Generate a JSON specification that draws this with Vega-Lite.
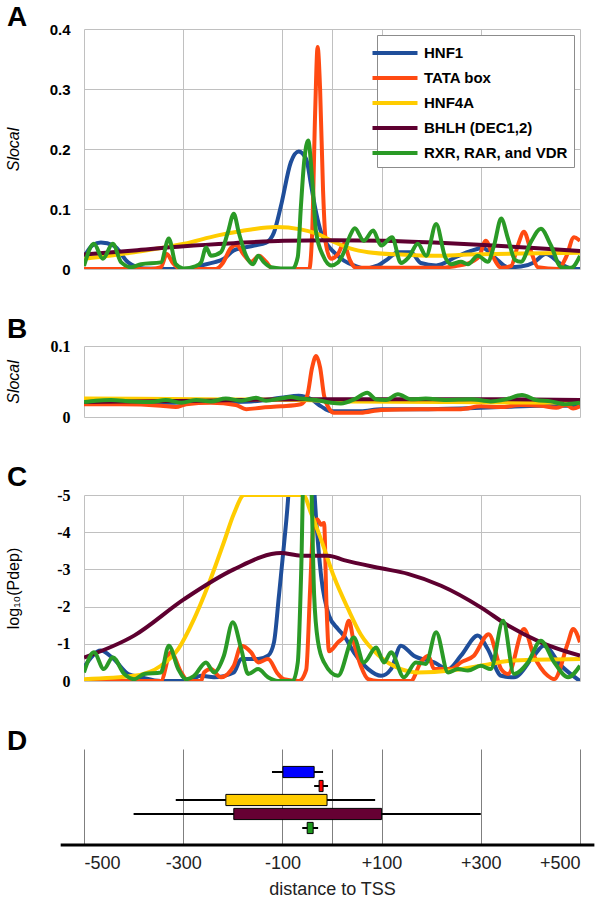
{
  "$schema": "https://vega.github.io/schema/vega-lite/v6.json",
  "background": "white",
  "padding": {"left": 5, "top": 4, "right": 5, "bottom": 5},
  "spacing": 39,
  "config": {
    "view": {"stroke": null},
    "font": "Liberation Sans",
    "title": {"fontSize": 28, "fontWeight": "bold", "anchor": "start", "frame": "group", "color": "black", "font": "Liberation Sans", "dx": -77}
  },
  "resolve": {"scale": {"color": "independent", "fill": "independent"}, "legend": {"color": "independent"}},
  "datasets": {
    "a": [
      {"s":"HNF1","x":-500,"y":0.02},{"s":"HNF1","x":-482,"y":0.04},{"s":"HNF1","x":-466,"y":0.044},{"s":"HNF1","x":-440,"y":0.039},{"s":"HNF1","x":-411,"y":0.011},{"s":"HNF1","x":-379,"y":0.001},{"s":"HNF1","x":-290,"y":0.0},{"s":"HNF1","x":-264,"y":0.006},{"s":"HNF1","x":-238,"y":0.011},{"s":"HNF1","x":-218,"y":0.017},{"s":"HNF1","x":-198,"y":0.031},{"s":"HNF1","x":-157,"y":0.039},{"s":"HNF1","x":-133,"y":0.044},{"s":"HNF1","x":-117,"y":0.061},{"s":"HNF1","x":-103,"y":0.105},{"s":"HNF1","x":-83,"y":0.178},{"s":"HNF1","x":-67,"y":0.196},{"s":"HNF1","x":-52,"y":0.183},{"s":"HNF1","x":-42,"y":0.139},{"s":"HNF1","x":-32,"y":0.094},{"s":"HNF1","x":-22,"y":0.061},{"s":"HNF1","x":-8,"y":0.039},{"s":"HNF1","x":4,"y":0.028},{"s":"HNF1","x":24,"y":0.014},{"s":"HNF1","x":44,"y":0.006},{"s":"HNF1","x":64,"y":0.001},{"s":"HNF1","x":93,"y":0.006},{"s":"HNF1","x":113,"y":0.017},{"s":"HNF1","x":133,"y":0.028},{"s":"HNF1","x":159,"y":0.028},{"s":"HNF1","x":179,"y":0.01},{"s":"HNF1","x":210,"y":0.006},{"s":"HNF1","x":250,"y":0.02},{"s":"HNF1","x":280,"y":0.03},{"s":"HNF1","x":304,"y":0.035},{"s":"HNF1","x":327,"y":0.02},{"s":"HNF1","x":355,"y":0.003},{"s":"HNF1","x":381,"y":0.004},{"s":"HNF1","x":407,"y":0.011},{"s":"HNF1","x":431,"y":0.025},{"s":"HNF1","x":462,"y":0.008},{"s":"HNF1","x":488,"y":0.0},{"s":"HNF1","x":500,"y":0.0},

      {"s":"TATA box","x":-500,"y":0},{"s":"TATA box","x":-365,"y":0},{"s":"TATA box","x":-345,"y":0.003},{"s":"TATA box","x":-333,"y":0.025},{"s":"TATA box","x":-321,"y":0.01},{"s":"TATA box","x":-304,"y":0},{"s":"TATA box","x":-234,"y":0},{"s":"TATA box","x":-220,"y":0.01},{"s":"TATA box","x":-204,"y":0.035},{"s":"TATA box","x":-192,"y":0.04},{"s":"TATA box","x":-179,"y":0.025},{"s":"TATA box","x":-163,"y":0.012},{"s":"TATA box","x":-147,"y":0.022},{"s":"TATA box","x":-133,"y":0.012},{"s":"TATA box","x":-119,"y":0},{"s":"TATA box","x":-46,"y":0},{"s":"TATA box","x":-40,"y":0.06},{"s":"TATA box","x":-34,"y":0.26},{"s":"TATA box","x":-29,"y":0.37},{"s":"TATA box","x":-24,"y":0.3},{"s":"TATA box","x":-18,"y":0.13},{"s":"TATA box","x":-12,"y":0.04},{"s":"TATA box","x":-2,"y":0.017},{"s":"TATA box","x":12,"y":0.025},{"s":"TATA box","x":24,"y":0.042},{"s":"TATA box","x":36,"y":0.015},{"s":"TATA box","x":48,"y":0.002},{"s":"TATA box","x":99,"y":0.002},{"s":"TATA box","x":220,"y":0.002},{"s":"TATA box","x":250,"y":0.005},{"s":"TATA box","x":270,"y":0.008},{"s":"TATA box","x":296,"y":0.02},{"s":"TATA box","x":310,"y":0.047},{"s":"TATA box","x":325,"y":0.02},{"s":"TATA box","x":341,"y":0.002},{"s":"TATA box","x":361,"y":0.005},{"s":"TATA box","x":375,"y":0.04},{"s":"TATA box","x":387,"y":0.062},{"s":"TATA box","x":401,"y":0.03},{"s":"TATA box","x":415,"y":0.003},{"s":"TATA box","x":456,"y":0},{"s":"TATA box","x":472,"y":0.02},{"s":"TATA box","x":488,"y":0.053},{"s":"TATA box","x":500,"y":0.047},

      {"s":"HNF4A","x":-500,"y":0.017},{"s":"HNF4A","x":-399,"y":0.028},{"s":"HNF4A","x":-298,"y":0.042},{"s":"HNF4A","x":-230,"y":0.056},{"s":"HNF4A","x":-163,"y":0.066},{"s":"HNF4A","x":-113,"y":0.07},{"s":"HNF4A","x":-63,"y":0.066},{"s":"HNF4A","x":-28,"y":0.058},{"s":"HNF4A","x":4,"y":0.045},{"s":"HNF4A","x":38,"y":0.034},{"s":"HNF4A","x":73,"y":0.028},{"s":"HNF4A","x":139,"y":0.024},{"s":"HNF4A","x":206,"y":0.022},{"s":"HNF4A","x":274,"y":0.024},{"s":"HNF4A","x":381,"y":0.026},{"s":"HNF4A","x":500,"y":0.027},

      {"s":"BHLH (DEC1,2)","x":-500,"y":0.024},{"s":"BHLH (DEC1,2)","x":-399,"y":0.031},{"s":"BHLH (DEC1,2)","x":-298,"y":0.038},{"s":"BHLH (DEC1,2)","x":-198,"y":0.043},{"s":"BHLH (DEC1,2)","x":-97,"y":0.047},{"s":"BHLH (DEC1,2)","x":4,"y":0.048},{"s":"BHLH (DEC1,2)","x":105,"y":0.047},{"s":"BHLH (DEC1,2)","x":206,"y":0.044},{"s":"BHLH (DEC1,2)","x":306,"y":0.04},{"s":"BHLH (DEC1,2)","x":407,"y":0.035},{"s":"BHLH (DEC1,2)","x":500,"y":0.03},

      {"s":"RXR, RAR, and VDR","x":-500,"y":0.005},{"s":"RXR, RAR, and VDR","x":-480,"y":0.042},{"s":"RXR, RAR, and VDR","x":-462,"y":0.017},{"s":"RXR, RAR, and VDR","x":-442,"y":0.042},{"s":"RXR, RAR, and VDR","x":-425,"y":0.011},{"s":"RXR, RAR, and VDR","x":-405,"y":0.003},{"s":"RXR, RAR, and VDR","x":-385,"y":0.008},{"s":"RXR, RAR, and VDR","x":-345,"y":0.011},{"s":"RXR, RAR, and VDR","x":-329,"y":0.051},{"s":"RXR, RAR, and VDR","x":-315,"y":0.008},{"s":"RXR, RAR, and VDR","x":-300,"y":0.001},{"s":"RXR, RAR, and VDR","x":-274,"y":0.005},{"s":"RXR, RAR, and VDR","x":-264,"y":0.011},{"s":"RXR, RAR, and VDR","x":-254,"y":0.036},{"s":"RXR, RAR, and VDR","x":-244,"y":0.022},{"s":"RXR, RAR, and VDR","x":-224,"y":0.028},{"s":"RXR, RAR, and VDR","x":-210,"y":0.061},{"s":"RXR, RAR, and VDR","x":-198,"y":0.092},{"s":"RXR, RAR, and VDR","x":-188,"y":0.061},{"s":"RXR, RAR, and VDR","x":-173,"y":0.022},{"s":"RXR, RAR, and VDR","x":-159,"y":0.008},{"s":"RXR, RAR, and VDR","x":-149,"y":0.022},{"s":"RXR, RAR, and VDR","x":-137,"y":0.011},{"s":"RXR, RAR, and VDR","x":-123,"y":0.003},{"s":"RXR, RAR, and VDR","x":-103,"y":0.001},{"s":"RXR, RAR, and VDR","x":-79,"y":0.001},{"s":"RXR, RAR, and VDR","x":-69,"y":0.02},{"s":"RXR, RAR, and VDR","x":-63,"y":0.1},{"s":"RXR, RAR, and VDR","x":-56,"y":0.18},{"s":"RXR, RAR, and VDR","x":-48,"y":0.214},{"s":"RXR, RAR, and VDR","x":-40,"y":0.15},{"s":"RXR, RAR, and VDR","x":-32,"y":0.061},{"s":"RXR, RAR, and VDR","x":-18,"y":0.022},{"s":"RXR, RAR, and VDR","x":-2,"y":0.006},{"s":"RXR, RAR, and VDR","x":12,"y":0.011},{"s":"RXR, RAR, and VDR","x":24,"y":0.028},{"s":"RXR, RAR, and VDR","x":36,"y":0.055},{"s":"RXR, RAR, and VDR","x":46,"y":0.068},{"s":"RXR, RAR, and VDR","x":64,"y":0.047},{"s":"RXR, RAR, and VDR","x":83,"y":0.064},{"s":"RXR, RAR, and VDR","x":99,"y":0.039},{"s":"RXR, RAR, and VDR","x":121,"y":0.053},{"s":"RXR, RAR, and VDR","x":139,"y":0.01},{"s":"RXR, RAR, and VDR","x":155,"y":0.02},{"s":"RXR, RAR, and VDR","x":173,"y":0.042},{"s":"RXR, RAR, and VDR","x":190,"y":0.022},{"s":"RXR, RAR, and VDR","x":210,"y":0.075},{"s":"RXR, RAR, and VDR","x":228,"y":0.02},{"s":"RXR, RAR, and VDR","x":240,"y":0.008},{"s":"RXR, RAR, and VDR","x":260,"y":0.012},{"s":"RXR, RAR, and VDR","x":274,"y":0.008},{"s":"RXR, RAR, and VDR","x":294,"y":0.022},{"s":"RXR, RAR, and VDR","x":314,"y":0.012},{"s":"RXR, RAR, and VDR","x":327,"y":0.04},{"s":"RXR, RAR, and VDR","x":341,"y":0.084},{"s":"RXR, RAR, and VDR","x":355,"y":0.05},{"s":"RXR, RAR, and VDR","x":369,"y":0.015},{"s":"RXR, RAR, and VDR","x":381,"y":0.012},{"s":"RXR, RAR, and VDR","x":401,"y":0.045},{"s":"RXR, RAR, and VDR","x":421,"y":0.067},{"s":"RXR, RAR, and VDR","x":441,"y":0.04},{"s":"RXR, RAR, and VDR","x":462,"y":0.003},{"s":"RXR, RAR, and VDR","x":482,"y":0.002},{"s":"RXR, RAR, and VDR","x":500,"y":0.022}
    ],
    "b": [
      {"s":"HNF1","x":-500,"y":0.02},{"s":"HNF1","x":-365,"y":0.02},{"s":"HNF1","x":-264,"y":0.021},{"s":"HNF1","x":-163,"y":0.022},{"s":"HNF1","x":-103,"y":0.027},{"s":"HNF1","x":-67,"y":0.03},{"s":"HNF1","x":-42,"y":0.025},{"s":"HNF1","x":-22,"y":0.015},{"s":"HNF1","x":-2,"y":0.008},{"s":"HNF1","x":58,"y":0.008},{"s":"HNF1","x":99,"y":0.011},{"s":"HNF1","x":179,"y":0.011},{"s":"HNF1","x":260,"y":0.012},{"s":"HNF1","x":341,"y":0.014},{"s":"HNF1","x":421,"y":0.016},{"s":"HNF1","x":500,"y":0.016},

      {"s":"TATA box","x":-500,"y":0.018},{"s":"TATA box","x":-425,"y":0.018},{"s":"TATA box","x":-345,"y":0.016},{"s":"TATA box","x":-315,"y":0.014},{"s":"TATA box","x":-294,"y":0.018},{"s":"TATA box","x":-244,"y":0.02},{"s":"TATA box","x":-194,"y":0.017},{"s":"TATA box","x":-173,"y":0.011},{"s":"TATA box","x":-143,"y":0.013},{"s":"TATA box","x":-103,"y":0.015},{"s":"TATA box","x":-63,"y":0.018},{"s":"TATA box","x":-50,"y":0.03},{"s":"TATA box","x":-40,"y":0.07},{"s":"TATA box","x":-32,"y":0.086},{"s":"TATA box","x":-24,"y":0.07},{"s":"TATA box","x":-16,"y":0.03},{"s":"TATA box","x":-6,"y":0.012},{"s":"TATA box","x":4,"y":0.006},{"s":"TATA box","x":58,"y":0.006},{"s":"TATA box","x":99,"y":0.01},{"s":"TATA box","x":179,"y":0.011},{"s":"TATA box","x":260,"y":0.011},{"s":"TATA box","x":300,"y":0.015},{"s":"TATA box","x":341,"y":0.014},{"s":"TATA box","x":381,"y":0.017},{"s":"TATA box","x":421,"y":0.016},{"s":"TATA box","x":452,"y":0.013},{"s":"TATA box","x":472,"y":0.017},{"s":"TATA box","x":486,"y":0.012},{"s":"TATA box","x":500,"y":0.015},

      {"s":"HNF4A","x":-500,"y":0.026},{"s":"HNF4A","x":-264,"y":0.025},{"s":"HNF4A","x":-63,"y":0.024},{"s":"HNF4A","x":38,"y":0.022},{"s":"HNF4A","x":240,"y":0.021},{"s":"HNF4A","x":500,"y":0.02},

      {"s":"BHLH (DEC1,2)","x":-500,"y":0.021},{"s":"BHLH (DEC1,2)","x":-264,"y":0.023},{"s":"BHLH (DEC1,2)","x":-63,"y":0.025},{"s":"BHLH (DEC1,2)","x":139,"y":0.025},{"s":"BHLH (DEC1,2)","x":341,"y":0.025},{"s":"BHLH (DEC1,2)","x":500,"y":0.024},

      {"s":"RXR, RAR, and VDR","x":-500,"y":0.021},{"s":"RXR, RAR, and VDR","x":-476,"y":0.023},{"s":"RXR, RAR, and VDR","x":-446,"y":0.024},{"s":"RXR, RAR, and VDR","x":-405,"y":0.022},{"s":"RXR, RAR, and VDR","x":-365,"y":0.021},{"s":"RXR, RAR, and VDR","x":-335,"y":0.024},{"s":"RXR, RAR, and VDR","x":-304,"y":0.02},{"s":"RXR, RAR, and VDR","x":-274,"y":0.024},{"s":"RXR, RAR, and VDR","x":-244,"y":0.022},{"s":"RXR, RAR, and VDR","x":-214,"y":0.026},{"s":"RXR, RAR, and VDR","x":-183,"y":0.023},{"s":"RXR, RAR, and VDR","x":-153,"y":0.027},{"s":"RXR, RAR, and VDR","x":-133,"y":0.023},{"s":"RXR, RAR, and VDR","x":-103,"y":0.026},{"s":"RXR, RAR, and VDR","x":-83,"y":0.028},{"s":"RXR, RAR, and VDR","x":-63,"y":0.026},{"s":"RXR, RAR, and VDR","x":-32,"y":0.024},{"s":"RXR, RAR, and VDR","x":-2,"y":0.02},{"s":"RXR, RAR, and VDR","x":18,"y":0.019},{"s":"RXR, RAR, and VDR","x":48,"y":0.026},{"s":"RXR, RAR, and VDR","x":71,"y":0.034},{"s":"RXR, RAR, and VDR","x":89,"y":0.025},{"s":"RXR, RAR, and VDR","x":109,"y":0.024},{"s":"RXR, RAR, and VDR","x":133,"y":0.032},{"s":"RXR, RAR, and VDR","x":159,"y":0.025},{"s":"RXR, RAR, and VDR","x":189,"y":0.026},{"s":"RXR, RAR, and VDR","x":230,"y":0.024},{"s":"RXR, RAR, and VDR","x":280,"y":0.025},{"s":"RXR, RAR, and VDR","x":320,"y":0.022},{"s":"RXR, RAR, and VDR","x":351,"y":0.025},{"s":"RXR, RAR, and VDR","x":383,"y":0.031},{"s":"RXR, RAR, and VDR","x":411,"y":0.024},{"s":"RXR, RAR, and VDR","x":441,"y":0.022},{"s":"RXR, RAR, and VDR","x":472,"y":0.018},{"s":"RXR, RAR, and VDR","x":500,"y":0.02}
    ],
    "c": [
      {"s":"HNF1","x":-500,"y":-0.37},{"s":"HNF1","x":-466,"y":-0.82},{"s":"HNF1","x":-440,"y":-0.59},{"s":"HNF1","x":-411,"y":-0.19},{"s":"HNF1","x":-385,"y":-0.1},{"s":"HNF1","x":-345,"y":0},{"s":"HNF1","x":-290,"y":0},{"s":"HNF1","x":-264,"y":-0.14},{"s":"HNF1","x":-238,"y":-0.1},{"s":"HNF1","x":-198,"y":-0.23},{"s":"HNF1","x":-183,"y":-0.59},{"s":"HNF1","x":-149,"y":-0.59},{"s":"HNF1","x":-129,"y":-0.68},{"s":"HNF1","x":-117,"y":-1.04},{"s":"HNF1","x":-107,"y":-2.29},{"s":"HNF1","x":-97,"y":-3.64},{"s":"HNF1","x":-87,"y":-5.2},{"s":"HNF1","x":-77,"y":-8},{"s":"HNF1","x":-58,"y":-8},{"s":"HNF1","x":-40,"y":-6},{"s":"HNF1","x":-32,"y":-4.35},{"s":"HNF1","x":-22,"y":-2.83},{"s":"HNF1","x":-6,"y":-1.76},{"s":"HNF1","x":12,"y":-1.4},{"s":"HNF1","x":24,"y":-1.22},{"s":"HNF1","x":44,"y":-0.77},{"s":"HNF1","x":73,"y":-0.32},{"s":"HNF1","x":99,"y":-0.14},{"s":"HNF1","x":119,"y":-0.32},{"s":"HNF1","x":139,"y":-0.95},{"s":"HNF1","x":165,"y":-0.68},{"s":"HNF1","x":206,"y":-0.5},{"s":"HNF1","x":234,"y":-0.32},{"s":"HNF1","x":260,"y":-0.68},{"s":"HNF1","x":294,"y":-1.22},{"s":"HNF1","x":314,"y":-0.86},{"s":"HNF1","x":341,"y":-0.14},{"s":"HNF1","x":367,"y":-0.1},{"s":"HNF1","x":407,"y":-0.68},{"s":"HNF1","x":427,"y":-0.95},{"s":"HNF1","x":462,"y":-0.41},{"s":"HNF1","x":500,"y":0},

      {"s":"TATA box","x":-500,"y":0},{"s":"TATA box","x":-345,"y":0},{"s":"TATA box","x":-325,"y":-0.77},{"s":"TATA box","x":-304,"y":-0.23},{"s":"TATA box","x":-290,"y":0},{"s":"TATA box","x":-264,"y":0},{"s":"TATA box","x":-258,"y":-0.23},{"s":"TATA box","x":-244,"y":-0.32},{"s":"TATA box","x":-224,"y":-0.1},{"s":"TATA box","x":-198,"y":-0.41},{"s":"TATA box","x":-183,"y":-0.95},{"s":"TATA box","x":-163,"y":-0.77},{"s":"TATA box","x":-149,"y":-0.5},{"s":"TATA box","x":-129,"y":-0.59},{"s":"TATA box","x":-109,"y":-0.19},{"s":"TATA box","x":-97,"y":-0.05},{"s":"TATA box","x":-67,"y":0},{"s":"TATA box","x":-52,"y":-0.3},{"s":"TATA box","x":-44,"y":-2.5},{"s":"TATA box","x":-38,"y":-4.1},{"s":"TATA box","x":-30,"y":-4.35},{"s":"TATA box","x":-22,"y":-4.2},{"s":"TATA box","x":-16,"y":-4.25},{"s":"TATA box","x":-11,"y":-2.0},{"s":"TATA box","x":-6,"y":-0.8},{"s":"TATA box","x":12,"y":-1.04},{"s":"TATA box","x":24,"y":-1.2},{"s":"TATA box","x":34,"y":-1.62},{"s":"TATA box","x":44,"y":-1.04},{"s":"TATA box","x":58,"y":-0.41},{"s":"TATA box","x":73,"y":-0.05},{"s":"TATA box","x":93,"y":0},{"s":"TATA box","x":159,"y":0},{"s":"TATA box","x":179,"y":-0.5},{"s":"TATA box","x":194,"y":-0.68},{"s":"TATA box","x":206,"y":-0.32},{"s":"TATA box","x":240,"y":-0.32},{"s":"TATA box","x":260,"y":-0.5},{"s":"TATA box","x":286,"y":-0.68},{"s":"TATA box","x":316,"y":-1.26},{"s":"TATA box","x":341,"y":-0.32},{"s":"TATA box","x":355,"y":-0.19},{"s":"TATA box","x":387,"y":-1.4},{"s":"TATA box","x":407,"y":-0.68},{"s":"TATA box","x":435,"y":-0.14},{"s":"TATA box","x":448,"y":-0.05},{"s":"TATA box","x":476,"y":-1.04},{"s":"TATA box","x":486,"y":-1.4},{"s":"TATA box","x":500,"y":-1.04},

      {"s":"HNF4A","x":-500,"y":-0.05},{"s":"HNF4A","x":-399,"y":-0.14},{"s":"HNF4A","x":-345,"y":-0.41},{"s":"HNF4A","x":-310,"y":-0.86},{"s":"HNF4A","x":-278,"y":-1.67},{"s":"HNF4A","x":-250,"y":-2.56},{"s":"HNF4A","x":-218,"y":-3.73},{"s":"HNF4A","x":-198,"y":-4.49},{"s":"HNF4A","x":-177,"y":-5.0},{"s":"HNF4A","x":-58,"y":-5.0},{"s":"HNF4A","x":-42,"y":-4.5},{"s":"HNF4A","x":-22,"y":-3.8},{"s":"HNF4A","x":4,"y":-2.8},{"s":"HNF4A","x":32,"y":-1.95},{"s":"HNF4A","x":58,"y":-1.25},{"s":"HNF4A","x":93,"y":-0.7},{"s":"HNF4A","x":139,"y":-0.32},{"s":"HNF4A","x":173,"y":-0.23},{"s":"HNF4A","x":240,"y":-0.28},{"s":"HNF4A","x":300,"y":-0.41},{"s":"HNF4A","x":367,"y":-0.55},{"s":"HNF4A","x":500,"y":-0.59},

      {"s":"BHLH (DEC1,2)","x":-500,"y":-0.63},{"s":"BHLH (DEC1,2)","x":-399,"y":-1.22},{"s":"BHLH (DEC1,2)","x":-298,"y":-2.2},{"s":"BHLH (DEC1,2)","x":-198,"y":-3.0},{"s":"BHLH (DEC1,2)","x":-103,"y":-3.44},{"s":"BHLH (DEC1,2)","x":-63,"y":-3.37},{"s":"BHLH (DEC1,2)","x":-8,"y":-3.37},{"s":"BHLH (DEC1,2)","x":24,"y":-3.25},{"s":"BHLH (DEC1,2)","x":99,"y":-3.03},{"s":"BHLH (DEC1,2)","x":153,"y":-2.88},{"s":"BHLH (DEC1,2)","x":220,"y":-2.56},{"s":"BHLH (DEC1,2)","x":300,"y":-1.98},{"s":"BHLH (DEC1,2)","x":355,"y":-1.49},{"s":"BHLH (DEC1,2)","x":421,"y":-1.04},{"s":"BHLH (DEC1,2)","x":500,"y":-0.68},

      {"s":"RXR, RAR, and VDR","x":-500,"y":-0.23},{"s":"RXR, RAR, and VDR","x":-480,"y":-0.77},{"s":"RXR, RAR, and VDR","x":-460,"y":-0.32},{"s":"RXR, RAR, and VDR","x":-442,"y":-0.64},{"s":"RXR, RAR, and VDR","x":-419,"y":-0.19},{"s":"RXR, RAR, and VDR","x":-399,"y":-0.05},{"s":"RXR, RAR, and VDR","x":-379,"y":-0.19},{"s":"RXR, RAR, and VDR","x":-345,"y":-0.23},{"s":"RXR, RAR, and VDR","x":-329,"y":-0.95},{"s":"RXR, RAR, and VDR","x":-310,"y":-0.32},{"s":"RXR, RAR, and VDR","x":-294,"y":-0.05},{"s":"RXR, RAR, and VDR","x":-278,"y":-0.14},{"s":"RXR, RAR, and VDR","x":-254,"y":-0.5},{"s":"RXR, RAR, and VDR","x":-238,"y":-0.23},{"s":"RXR, RAR, and VDR","x":-218,"y":-0.68},{"s":"RXR, RAR, and VDR","x":-200,"y":-1.58},{"s":"RXR, RAR, and VDR","x":-183,"y":-0.86},{"s":"RXR, RAR, and VDR","x":-169,"y":-0.19},{"s":"RXR, RAR, and VDR","x":-149,"y":-0.32},{"s":"RXR, RAR, and VDR","x":-129,"y":-0.1},{"s":"RXR, RAR, and VDR","x":-109,"y":0},{"s":"RXR, RAR, and VDR","x":-79,"y":0},{"s":"RXR, RAR, and VDR","x":-69,"y":-0.5},{"s":"RXR, RAR, and VDR","x":-62,"y":-3},{"s":"RXR, RAR, and VDR","x":-56,"y":-6.5},{"s":"RXR, RAR, and VDR","x":-48,"y":-7},{"s":"RXR, RAR, and VDR","x":-42,"y":-5.5},{"s":"RXR, RAR, and VDR","x":-36,"y":-2.3},{"s":"RXR, RAR, and VDR","x":-28,"y":-1.04},{"s":"RXR, RAR, and VDR","x":-16,"y":-0.5},{"s":"RXR, RAR, and VDR","x":12,"y":-0.14},{"s":"RXR, RAR, and VDR","x":44,"y":-1.17},{"s":"RXR, RAR, and VDR","x":64,"y":-0.5},{"s":"RXR, RAR, and VDR","x":89,"y":-0.9},{"s":"RXR, RAR, and VDR","x":105,"y":-0.5},{"s":"RXR, RAR, and VDR","x":119,"y":-0.77},{"s":"RXR, RAR, and VDR","x":145,"y":-0.1},{"s":"RXR, RAR, and VDR","x":169,"y":-0.5},{"s":"RXR, RAR, and VDR","x":189,"y":-0.46},{"s":"RXR, RAR, and VDR","x":210,"y":-1.31},{"s":"RXR, RAR, and VDR","x":234,"y":-0.23},{"s":"RXR, RAR, and VDR","x":254,"y":-0.32},{"s":"RXR, RAR, and VDR","x":274,"y":-0.28},{"s":"RXR, RAR, and VDR","x":300,"y":-0.41},{"s":"RXR, RAR, and VDR","x":320,"y":-0.32},{"s":"RXR, RAR, and VDR","x":345,"y":-1.62},{"s":"RXR, RAR, and VDR","x":367,"y":-0.19},{"s":"RXR, RAR, and VDR","x":395,"y":-0.5},{"s":"RXR, RAR, and VDR","x":421,"y":-1.08},{"s":"RXR, RAR, and VDR","x":448,"y":-0.5},{"s":"RXR, RAR, and VDR","x":476,"y":-0.1},{"s":"RXR, RAR, and VDR","x":500,"y":-0.41}
    ],
    "d": [
      {"s":"HNF1","lo":-121,"q1":-99,"q3":-36,"hi":-18},
      {"s":"TATA box","lo":-36,"q1":-26,"q3":-18,"hi":-8},
      {"s":"HNF4A","lo":-315,"q1":-214,"q3":-10,"hi":87},
      {"s":"BHLH (DEC1,2)","lo":-400,"q1":-198,"q3":100,"hi":300},
      {"s":"RXR, RAR, and VDR","lo":-60,"q1":-50,"q3":-38,"hi":-28}
    ],
    "dline": [{"x0": -547, "x1": 529}]
  },
  "vconcat": [
    {
      "title": {"text": "A", "offset": -10},
      "width": 496, "height": 240,
      "data": {"name": "a"},
      "mark": {"type": "line", "strokeWidth": 4, "interpolate": "monotone", "clip": true},
      "encoding": {
        "x": {"field": "x", "type": "quantitative", "scale": {"domain": [-500, 500], "nice": false, "zero": false},
              "axis": {"values": [-500,-300,-100,0,100,300,500], "labels": false, "ticks": false, "domain": false, "title": null, "gridColor": "#C0C0C0", "minExtent": 0, "maxExtent": 0}},
        "y": {"field": "y", "type": "quantitative", "scale": {"domain": [0, 0.4], "nice": false},
              "axis": {"values": [0,0.1,0.2,0.3,0.4], "labelExpr": "datum.value == 0 ? '0' : format(datum.value, '.1f')", "labelFont": "Liberation Sans", "labelFontWeight": "bold", "labelFontSize": 15, "labelColor": "black", "labelPadding": 14, "ticks": false, "domain": false, "gridColor": "#C0C0C0", "title": "Slocal", "titleFont": "Liberation Sans", "titleFontStyle": "italic", "titleFontSize": 16, "titleFontWeight": "normal", "titleColor": "black", "titlePadding": 8, "minExtent": 55, "maxExtent": 55}},
        "color": {"field": "s", "type": "nominal",
                  "scale": {"domain": ["HNF1","TATA box","HNF4A","BHLH (DEC1,2)","RXR, RAR, and VDR"], "range": ["#1F4E9A","#FF4A12","#FFCC00","#5E0030","#2A9A26"]},
                  "legend": {"title": null, "orient": "top-right", "offset": 6, "fillColor": "white", "strokeColor": "#8C8C8C", "padding": 6, "labelFontSize": 15, "labelFontWeight": "bold", "labelColor": "black", "labelFont": "Liberation Sans", "symbolType": "M-2.25,0H2.25", "symbolStrokeWidth": 4, "symbolSize": 400, "rowPadding": 5, "labelOffset": 17, "labelLimit": 300}}
      }
    },
    {
      "title": {"text": "B", "offset": -6},
      "width": 496, "height": 71,
      "data": {"name": "b"},
      "mark": {"type": "line", "strokeWidth": 4, "interpolate": "monotone", "clip": true},
      "encoding": {
        "x": {"field": "x", "type": "quantitative", "scale": {"domain": [-500, 500], "nice": false, "zero": false},
              "axis": {"values": [-500,-300,-100,0,100,300,500], "labels": false, "ticks": false, "domain": false, "title": null, "gridColor": "#C0C0C0", "minExtent": 0, "maxExtent": 0}},
        "y": {"field": "y", "type": "quantitative", "scale": {"domain": [0, 0.1], "nice": false},
              "axis": {"values": [0,0.1], "labelExpr": "datum.value == 0 ? '0' : format(datum.value, '.1f')", "labelFont": "Liberation Serif", "labelFontWeight": "bold", "labelFontSize": 16, "labelColor": "black", "labelPadding": 14, "ticks": false, "domain": false, "gridColor": "#C0C0C0", "title": "Slocal", "titleFont": "Liberation Sans", "titleFontStyle": "italic", "titleFontSize": 16, "titleFontWeight": "normal", "titleColor": "black", "titlePadding": 8, "minExtent": 55, "maxExtent": 55}},
        "color": {"field": "s", "type": "nominal",
                  "scale": {"domain": ["HNF1","TATA box","HNF4A","BHLH (DEC1,2)","RXR, RAR, and VDR"], "range": ["#1F4E9A","#FF4A12","#FFCC00","#5E0030","#2A9A26"]},
                  "legend": null}
      }
    },
    {
      "title": {"text": "C", "offset": -5},
      "width": 496, "height": 186,
      "data": {"name": "c"},
      "mark": {"type": "line", "strokeWidth": 4, "interpolate": "monotone", "clip": true},
      "encoding": {
        "x": {"field": "x", "type": "quantitative", "scale": {"domain": [-500, 500], "nice": false, "zero": false},
              "axis": {"values": [-500,-300,-100,0,100,300,500], "labels": false, "ticks": false, "domain": false, "title": null, "gridColor": "#C0C0C0", "minExtent": 0, "maxExtent": 0}},
        "y": {"field": "y", "type": "quantitative", "scale": {"domain": [-5, 0], "nice": false, "reverse": true},
              "axis": {"values": [0,-1,-2,-3,-4,-5], "labelExpr": "datum.value == 0 ? '0' : '-' + abs(datum.value)", "labelFont": "Liberation Serif", "labelFontWeight": "bold", "labelFontSize": 16, "labelColor": "black", "labelPadding": 14, "ticks": false, "domain": false, "gridColor": "#C0C0C0", "title": "log₁₀(Pdep)", "titleFont": "Liberation Sans", "titleFontSize": 16, "titleFontWeight": "normal", "titleColor": "black", "titlePadding": 8, "minExtent": 55, "maxExtent": 55}},
        "color": {"field": "s", "type": "nominal",
                  "scale": {"domain": ["HNF1","TATA box","HNF4A","BHLH (DEC1,2)","RXR, RAR, and VDR"], "range": ["#1F4E9A","#FF4A12","#FFCC00","#5E0030","#2A9A26"]},
                  "legend": null}
      }
    },
    {
      "title": {"text": "D", "offset": -7},
      "width": 496, "height": 96,
      "layer": [
        {
          "data": {"name": "d"},
          "mark": {"type": "rule", "color": "black", "strokeWidth": 2},
          "encoding": {
            "x": {"field": "lo", "type": "quantitative", "scale": {"domain": [-500, 500], "nice": false, "zero": false},
                  "axis": {"values": [-500,-300,-100,0,100,300,500], "labelExpr": "datum.value == 0 ? '' : (datum.value > 0 ? '+' : '-') + abs(datum.value)", "labelFont": "Liberation Sans", "labelFontSize": 18, "labelColor": "#222222", "labelPadding": 9, "ticks": false, "domain": false, "grid": true, "gridColor": "#7F7F7F", "title": "distance to TSS", "titleFont": "Liberation Sans", "titleFontSize": 18, "titleFontWeight": "normal", "titleColor": "#222222", "titlePadding": 8}},
            "x2": {"field": "hi"},
            "y": {"field": "s", "type": "nominal", "sort": ["HNF1","TATA box","HNF4A","BHLH (DEC1,2)","RXR, RAR, and VDR"],
                  "scale": {"paddingInner": 0, "paddingOuter": 0.93, "align": 0.615}, "axis": null}
          }
        },
        {
          "data": {"name": "d"},
          "mark": {"type": "bar", "stroke": "black", "strokeWidth": 1, "height": {"band": 0.8}},
          "encoding": {
            "x": {"field": "q1", "type": "quantitative"},
            "x2": {"field": "q3"},
            "y": {"field": "s", "type": "nominal", "sort": ["HNF1","TATA box","HNF4A","BHLH (DEC1,2)","RXR, RAR, and VDR"]},
            "fill": {"field": "s", "type": "nominal",
                     "scale": {"domain": ["HNF1","TATA box","HNF4A","BHLH (DEC1,2)","RXR, RAR, and VDR"], "range": ["#0000FF","#FF0000","#FFCC00","#660033","#1E9A1E"]},
                     "legend": null}
          }
        },
        {
          "data": {"name": "dline"},
          "mark": {"type": "rule", "color": "black", "strokeWidth": 3},
          "encoding": {
            "x": {"field": "x0", "type": "quantitative"},
            "x2": {"field": "x1"},
            "y": {"value": "height"}
          }
        }
      ]
    }
  ]
}
